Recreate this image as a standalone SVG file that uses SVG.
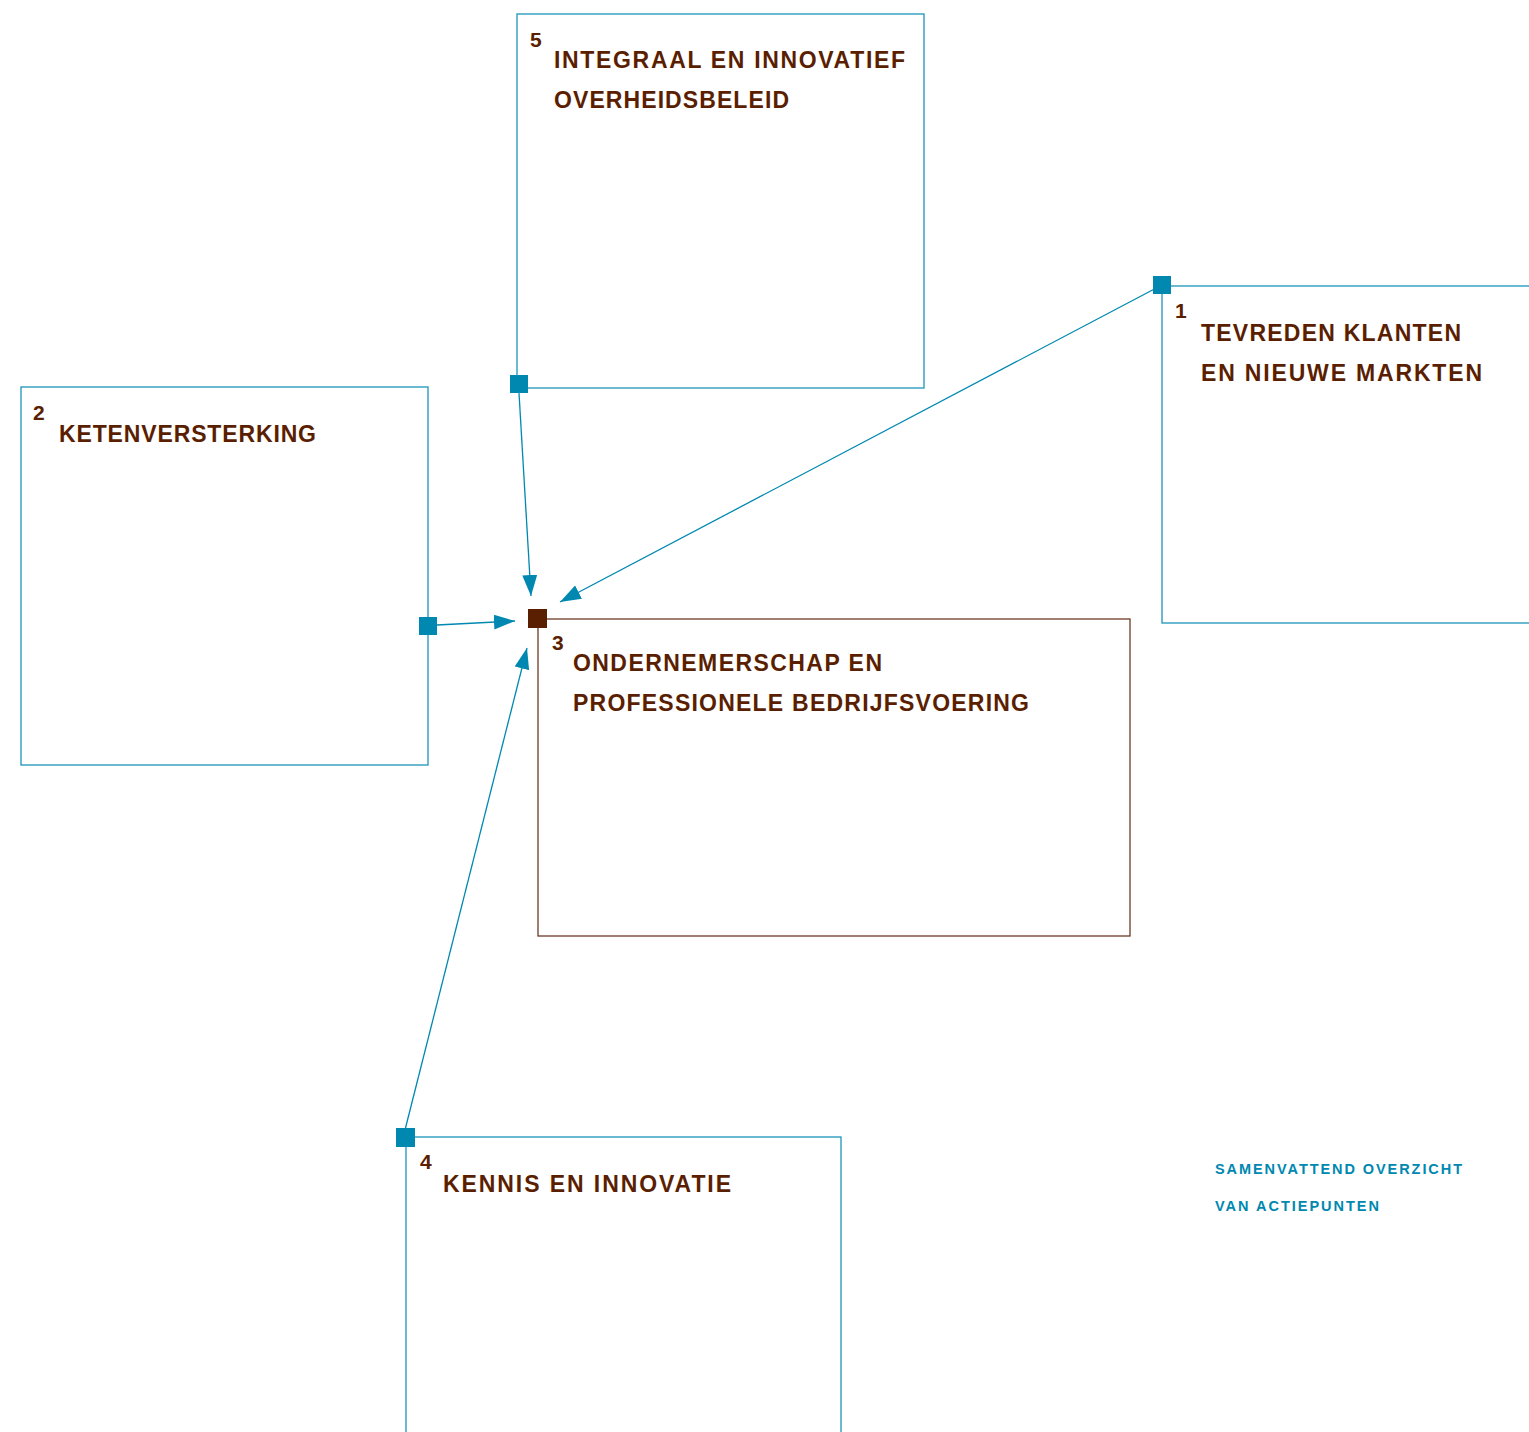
<svg xmlns="http://www.w3.org/2000/svg" width="1529" height="1432" viewBox="0 0 1529 1432">
<style>
.box{fill:none;stroke:#1c95bb;stroke-width:1.3}
.box3{fill:none;stroke:#6e3a25;stroke-width:1.3}
.sq{fill:#0088b0}
.sq3{fill:#5a1e00}
.t{font-family:"Liberation Sans",Arial,sans-serif;font-weight:bold;font-size:23px;fill:#5a1e00}
.n{font-family:"Liberation Sans",Arial,sans-serif;font-weight:bold;font-size:21px;fill:#5a1e00}
.c{font-family:"Liberation Sans",Arial,sans-serif;font-weight:bold;font-size:14.5px;fill:#0088b0}
.ln{stroke:#0088b0;stroke-width:1.3;fill:none}
</style>
<defs>
<marker id="ah" markerUnits="userSpaceOnUse" markerWidth="22" markerHeight="16" refX="21" refY="7.5" orient="auto">
<path d="M0,0 L21,7.5 L0,15 z" fill="#0088b0"/>
</marker>
</defs>
<rect width="1529" height="1432" fill="#ffffff"/>
<g id="connectors">
<line class="ln" x1="519" y1="393" x2="531" y2="596" marker-end="url(#ah)"/>
<line class="ln" x1="1162" y1="285" x2="560" y2="602" marker-end="url(#ah)"/>
<line class="ln" x1="437" y1="625" x2="515" y2="621" marker-end="url(#ah)"/>
<line class="ln" x1="405" y1="1130" x2="527" y2="648" marker-end="url(#ah)"/>
</g>
<g id="node5">
<rect class="box" x="517" y="14" width="407" height="374"/>
<rect class="sq" x="510" y="375" width="18" height="18"/>
<text class="n" x="530" y="47">5</text>
<text class="t" x="554" y="68" textLength="351" lengthAdjust="spacing">INTEGRAAL EN INNOVATIEF</text>
<text class="t" x="554" y="108" textLength="235" lengthAdjust="spacing">OVERHEIDSBELEID</text>
</g>
<g id="node1">
<rect class="box" x="1162" y="286" width="380" height="337"/>
<rect class="sq" x="1153" y="276" width="18" height="18"/>
<text class="n" x="1175" y="318">1</text>
<text class="t" x="1201" y="341" textLength="260" lengthAdjust="spacing">TEVREDEN KLANTEN</text>
<text class="t" x="1201" y="381" textLength="281" lengthAdjust="spacing">EN NIEUWE MARKTEN</text>
</g>
<g id="node2">
<rect class="box" x="21" y="387" width="407" height="378"/>
<rect class="sq" x="419" y="617" width="18" height="18"/>
<text class="n" x="33" y="420">2</text>
<text class="t" x="59" y="442" textLength="257" lengthAdjust="spacing">KETENVERSTERKING</text>
</g>
<g id="node3">
<rect class="box3" x="538" y="619" width="592" height="317"/>
<rect class="sq3" x="528" y="609" width="19" height="19"/>
<text class="n" x="552" y="650">3</text>
<text class="t" x="573" y="671" textLength="309" lengthAdjust="spacing">ONDERNEMERSCHAP EN</text>
<text class="t" x="573" y="711" textLength="456" lengthAdjust="spacing">PROFESSIONELE BEDRIJFSVOERING</text>
</g>
<g id="node4">
<rect class="box" x="406" y="1137" width="435" height="320"/>
<rect class="sq" x="396" y="1128" width="19" height="19"/>
<text class="n" x="420" y="1169">4</text>
<text class="t" x="443" y="1192" textLength="288" lengthAdjust="spacing">KENNIS EN INNOVATIE</text>
</g>
<g id="caption">
<text class="c" x="1215" y="1174" textLength="247" lengthAdjust="spacing">SAMENVATTEND OVERZICHT</text>
<text class="c" x="1215" y="1211" textLength="164" lengthAdjust="spacing">VAN ACTIEPUNTEN</text>
</g>
</svg>
